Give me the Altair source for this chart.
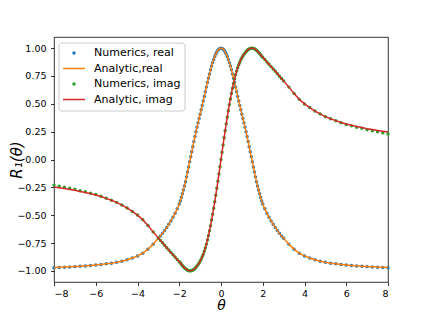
import altair as alt
import pandas as pd

theta = [-8.0, -7.75, -7.5, -7.25, -7.0, -6.75, -6.5, -6.25, -6.0, -5.75, -5.5, -5.25, -5.0, -4.75, -4.5, -4.25, -4.0, -3.75, -3.5, -3.25,
         -3.0, -2.9, -2.8, -2.7, -2.6, -2.5, -2.4, -2.3, -2.2, -2.1,
         -2.0, -1.95, -1.9, -1.85, -1.8, -1.75, -1.7, -1.65, -1.6, -1.55, -1.5, -1.45, -1.4, -1.35, -1.3, -1.25, -1.2, -1.15, -1.1, -1.05,
         -1.0, -0.95, -0.9, -0.85, -0.8, -0.75, -0.7, -0.65, -0.6, -0.55, -0.5, -0.45, -0.4, -0.35, -0.3, -0.25, -0.2, -0.15, -0.1, -0.05,
         0.0, 0.05, 0.1, 0.15, 0.2, 0.25, 0.3, 0.35, 0.4, 0.45, 0.5, 0.55, 0.6, 0.65, 0.7, 0.75, 0.8, 0.85, 0.9, 0.95,
         1.0, 1.05, 1.1, 1.15, 1.2, 1.25, 1.3, 1.35, 1.4, 1.45, 1.5, 1.55, 1.6, 1.65, 1.7, 1.75, 1.8, 1.85, 1.9, 1.95, 2.0,
         2.1, 2.2, 2.3, 2.4, 2.5, 2.6, 2.7, 2.8, 2.9, 3.0,
         3.25, 3.5, 3.75, 4.0, 4.25, 4.5, 4.75, 5.0, 5.25, 5.5, 5.75, 6.0, 6.25, 6.5, 6.75, 7.0, 7.25, 7.5, 7.75, 8.0]

ana_real = [-0.969, -0.967, -0.965, -0.963, -0.961, -0.958, -0.955, -0.952, -0.948, -0.943, -0.937, -0.931, -0.923, -0.913, -0.900, -0.885, -0.866, -0.842, -0.805, -0.760,
            -0.708, -0.687, -0.663, -0.638, -0.610, -0.582, -0.552, -0.519, -0.482, -0.443,
            -0.400, -0.372, -0.342, -0.308, -0.273, -0.237, -0.199, -0.156, -0.112, -0.067, -0.020, 0.024, 0.069, 0.115, 0.161, 0.206, 0.250, 0.290, 0.329, 0.368,
            0.407, 0.446, 0.486, 0.526, 0.566, 0.608, 0.650, 0.691, 0.730, 0.768, 0.805, 0.839, 0.870, 0.899, 0.925, 0.947, 0.966, 0.981, 0.991, 0.998,
            1.000, 0.998, 0.991, 0.981, 0.966, 0.947, 0.925, 0.899, 0.870, 0.839, 0.805, 0.768, 0.730, 0.691, 0.650, 0.608, 0.566, 0.526, 0.486, 0.446,
            0.407, 0.368, 0.329, 0.290, 0.250, 0.206, 0.161, 0.115, 0.069, 0.024, -0.020, -0.067, -0.112, -0.156, -0.199, -0.237, -0.273, -0.308, -0.342, -0.372, -0.400,
            -0.443, -0.482, -0.519, -0.552, -0.582, -0.610, -0.638, -0.663, -0.687, -0.708,
            -0.760, -0.805, -0.842, -0.866, -0.885, -0.900, -0.913, -0.923, -0.931, -0.937, -0.943, -0.948, -0.952, -0.955, -0.958, -0.961, -0.963, -0.965, -0.967, -0.969]

num_real = [-0.971, -0.969, -0.967, -0.965, -0.962, -0.959, -0.956, -0.952, -0.948, -0.943, -0.937, -0.931, -0.923, -0.913, -0.900, -0.885, -0.866, -0.842, -0.805, -0.760,
            -0.708, -0.687, -0.663, -0.638, -0.610, -0.582, -0.552, -0.519, -0.482, -0.443,
            -0.400, -0.372, -0.342, -0.308, -0.273, -0.237, -0.199, -0.156, -0.112, -0.067, -0.020, 0.024, 0.069, 0.115, 0.161, 0.206, 0.250, 0.290, 0.329, 0.368,
            0.407, 0.446, 0.486, 0.526, 0.566, 0.608, 0.650, 0.691, 0.730, 0.768, 0.805, 0.839, 0.870, 0.899, 0.925, 0.947, 0.966, 0.981, 0.991, 0.998,
            1.000, 0.998, 0.991, 0.981, 0.966, 0.947, 0.925, 0.899, 0.870, 0.839, 0.805, 0.768, 0.730, 0.691, 0.650, 0.608, 0.566, 0.526, 0.486, 0.446,
            0.407, 0.368, 0.329, 0.290, 0.250, 0.206, 0.161, 0.115, 0.069, 0.024, -0.020, -0.067, -0.112, -0.156, -0.199, -0.237, -0.273, -0.308, -0.342, -0.372, -0.400,
            -0.443, -0.482, -0.519, -0.552, -0.582, -0.610, -0.638, -0.663, -0.687, -0.708,
            -0.760, -0.805, -0.842, -0.866, -0.885, -0.900, -0.913, -0.923, -0.931, -0.937, -0.943, -0.948, -0.952, -0.956, -0.959, -0.962, -0.965, -0.967, -0.969, -0.971]

ana_imag = [-0.246, -0.253, -0.261, -0.269, -0.277, -0.287, -0.296, -0.307, -0.318, -0.333, -0.349, -0.366, -0.385, -0.409, -0.435, -0.466, -0.499, -0.540, -0.593, -0.650,
            -0.706, -0.727, -0.748, -0.770, -0.793, -0.813, -0.834, -0.855, -0.876, -0.897,
            -0.917, -0.928, -0.940, -0.951, -0.962, -0.972, -0.980, -0.988, -0.994, -0.998, -1.000, -1.000, -0.998, -0.993, -0.987, -0.979, -0.968, -0.957, -0.944, -0.930,
            -0.914, -0.895, -0.874, -0.851, -0.824, -0.794, -0.760, -0.723, -0.683, -0.640, -0.594, -0.544, -0.492, -0.437, -0.380, -0.320, -0.259, -0.196, -0.131, -0.066,
            0.000, 0.066, 0.131, 0.196, 0.259, 0.320, 0.380, 0.437, 0.492, 0.544, 0.594, 0.640, 0.683, 0.723, 0.760, 0.794, 0.824, 0.851, 0.874, 0.895,
            0.914, 0.930, 0.944, 0.957, 0.968, 0.979, 0.987, 0.993, 0.998, 1.000, 1.000, 0.998, 0.994, 0.988, 0.980, 0.972, 0.962, 0.951, 0.940, 0.928, 0.917,
            0.897, 0.876, 0.855, 0.834, 0.813, 0.793, 0.770, 0.748, 0.727, 0.706,
            0.650, 0.593, 0.540, 0.499, 0.466, 0.435, 0.409, 0.385, 0.366, 0.349, 0.333, 0.318, 0.307, 0.296, 0.287, 0.277, 0.269, 0.261, 0.253, 0.246]

num_imag = [-0.230, -0.239, -0.249, -0.259, -0.268, -0.280, -0.290, -0.302, -0.314, -0.330, -0.347, -0.365, -0.385, -0.409, -0.435, -0.466, -0.499, -0.540, -0.593, -0.650,
            -0.706, -0.727, -0.748, -0.770, -0.793, -0.813, -0.834, -0.855, -0.876, -0.897,
            -0.917, -0.928, -0.940, -0.951, -0.962, -0.972, -0.980, -0.988, -0.994, -0.998, -1.000, -1.000, -0.998, -0.993, -0.987, -0.979, -0.968, -0.957, -0.944, -0.930,
            -0.914, -0.895, -0.874, -0.851, -0.824, -0.794, -0.760, -0.723, -0.683, -0.640, -0.594, -0.544, -0.492, -0.437, -0.380, -0.320, -0.259, -0.196, -0.131, -0.066,
            0.000, 0.066, 0.131, 0.196, 0.259, 0.320, 0.380, 0.437, 0.492, 0.544, 0.594, 0.640, 0.683, 0.723, 0.760, 0.794, 0.824, 0.851, 0.874, 0.895,
            0.914, 0.930, 0.944, 0.957, 0.968, 0.979, 0.987, 0.993, 0.998, 1.000, 1.000, 0.998, 0.994, 0.988, 0.980, 0.972, 0.962, 0.951, 0.940, 0.928, 0.917,
            0.897, 0.876, 0.855, 0.834, 0.813, 0.793, 0.770, 0.748, 0.727, 0.706,
            0.650, 0.593, 0.540, 0.499, 0.466, 0.435, 0.409, 0.385, 0.365, 0.347, 0.330, 0.314, 0.302, 0.290, 0.280, 0.268, 0.259, 0.249, 0.239, 0.230]

x_ticks = [-8, -6, -4, -2, 0, 2, 4, 6, 8]
y_ticks = [-1.0, -0.75, -0.5, -0.25, 0.0, 0.25, 0.5, 0.75, 1.0]

legend_labels = ["Numerics, real", "Analytic,real", "Numerics, imag", "Analytic, imag"]
legend_kinds = ["dot", "line", "dot", "line"]
colors = ["#1f77b4", "#ff7f0e", "#2ca02c", "#d62728"]

df = pd.DataFrame({"theta": theta, "num_real": num_real, "ana_real": ana_real,
                   "num_imag": num_imag, "ana_imag": ana_imag})

FONT = "DejaVu Sans"
W, H = 334, 245

x_axis = alt.Axis(values=x_ticks, format="d", title="θ",
                  labelExpr="replace(datum.label, '-', '−')",
                  labelPadding=2.5, titleY=27.5, titleBaseline="alphabetic", titleFontSize=14)
y_axis = alt.Axis(values=y_ticks, format=".2f", title="R₁(θ)",
                  labelExpr="replace(datum.label, '-', '−')",
                  labelPadding=4.5, titleX=-38, titleY=H / 2, titleAngle=-90,
                  titleAlign="center", titleBaseline="middle", titleFontSize=15)
x_scale = alt.Scale(domain=[-8, 8], nice=False, zero=False)
y_scale = alt.Scale(domain=[-1.1, 1.1], nice=False, zero=False)

base = alt.Chart(df)


def xenc():
    return alt.X("theta:Q", scale=x_scale, axis=x_axis)


def yenc(field):
    return alt.Y(f"{field}:Q", scale=y_scale, axis=y_axis)


layers = [
    base.mark_circle(size=12, color=colors[0], opacity=1).encode(x=xenc(), y=yenc("num_real")),
    base.mark_line(color=colors[1], strokeWidth=1.5).encode(x=xenc(), y=yenc("ana_real")),
    base.mark_circle(size=12, color=colors[2], opacity=1).encode(x=xenc(), y=yenc("num_imag")),
    base.mark_line(color=colors[3], strokeWidth=1.5).encode(x=xenc(), y=yenc("ana_imag")),
]

one = alt.Chart(pd.DataFrame({"k": [0]}))
layers.append(one.mark_rect(fill="white", fillOpacity=0.8, stroke="#cccccc", strokeWidth=1,
                            cornerRadius=3).encode(x=alt.value(5), x2=alt.value(131),
                                                   y=alt.value(6), y2=alt.value(74)))
row_y = [16, 31.5, 47, 62.5]
for lab, kind, col, yy in zip(legend_labels, legend_kinds, colors, row_y):
    if kind == "dot":
        layers.append(one.mark_circle(size=12, color=col, opacity=1).encode(
            x=alt.value(20), y=alt.value(yy)))
    else:
        layers.append(one.mark_rule(color=col, strokeWidth=1.5).encode(
            x=alt.value(9), x2=alt.value(31), y=alt.value(yy)))
    layers.append(one.mark_text(align="left", baseline="middle", font=FONT, fontSize=11,
                                color="black").encode(x=alt.value(40), y=alt.value(yy),
                                                      text=alt.value(lab)))

chart = alt.layer(*layers).properties(
    width=W, height=H,
    autosize=alt.AutoSizeParams(type="none"),
    padding={"left": 46, "top": 29, "right": 36, "bottom": 30},
    background="white",
).configure_view(
    stroke="black", strokeWidth=0.8
).configure_axis(
    domain=False, grid=False, tickColor="black", tickSize=3.5, tickWidth=0.8,
    labelFont=FONT, labelFontSize=9.5, labelColor="black",
    titleFont=FONT, titleFontStyle="italic", titleFontWeight="normal",
    titleColor="black",
)

chart.save("out.html", embed_options={"renderer": "svg", "actions": False})
